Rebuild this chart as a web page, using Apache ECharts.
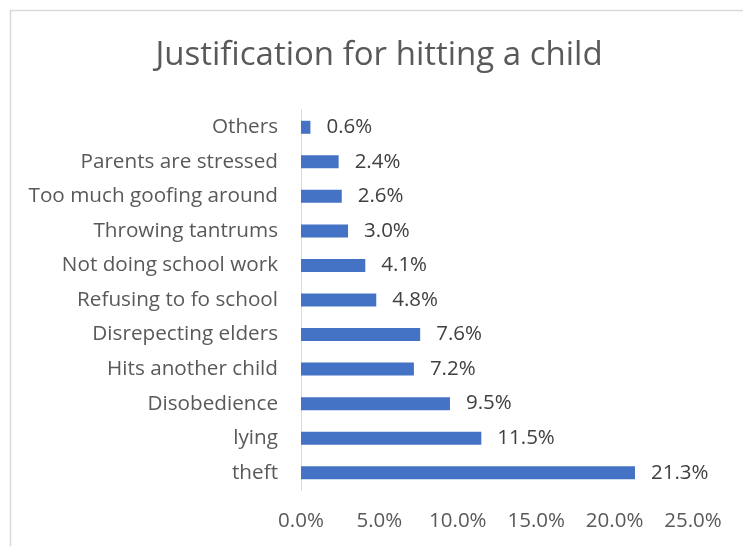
<!DOCTYPE html>
<html><head><meta charset="utf-8">
<script src="https://cdn.jsdelivr.net/npm/echarts@6/dist/echarts.min.js"></script>
<style>html,body{margin:0;padding:0;background:#fff}#c{width:743px;height:546px}</style>
</head><body><div id="c"></div>
<script>
const categories = ["theft","lying","Disobedience","Hits another child","Disrepecting elders","Refusing to fo school","Not doing school work","Throwing tantrums","Too much goofing around","Parents are stressed","Others"];
const values = [21.3,11.5,9.5,7.2,7.6,4.8,4.1,3.0,2.6,2.4,0.6];
const xTicks = [0,5,10,15,20,25];
const FONT = "Open Sans";
const chart = echarts.init(document.getElementById('c'));
chart.setOption({
  animation:false,
  textStyle:{fontFamily:FONT},
  title:{text:"Justification for hitting a child",left:374,textAlign:'center',top:34,
    textStyle:{fontFamily:FONT,fontSize:33,fontWeight:'normal',color:'#595959'}},
  graphic:[{type:'rect',shape:{x:10.5,y:10.5,width:800,height:600},style:{fill:'none',stroke:'#d9d9d9',lineWidth:1.5}}],
  grid:{left:301,right:50,top:110,bottom:56},
  xAxis:{type:'value',min:xTicks[0],max:xTicks[xTicks.length-1],interval:5,
    axisLine:{show:false},axisTick:{show:false},splitLine:{show:false},
    axisLabel:{margin:21,fontSize:20.5,color:'#595959',formatter:v=>v.toFixed(1)+'%'}},
  yAxis:{type:'category',data:categories,
    axisLine:{show:true,lineStyle:{color:'#d9d9d9',width:1}},axisTick:{show:false},
    axisLabel:{margin:23,fontSize:20.7,color:'#595959'}},
  series:[{type:'bar',data:values,barWidth:13,itemStyle:{color:'#4472C4'},
    label:{show:true,position:'right',distance:16,fontSize:20.5,color:'#404040',formatter:p=>p.value.toFixed(1)+'%'}}]
});
</script></body></html>
